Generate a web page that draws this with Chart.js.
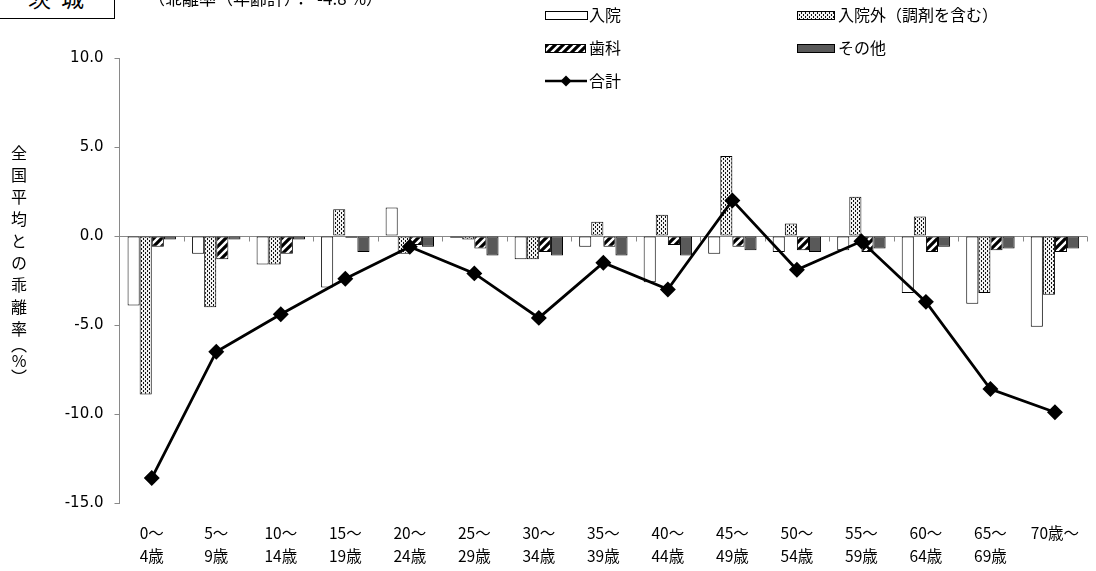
<!DOCTYPE html>
<html>
<head>
<meta charset="utf-8">
<script src="https://cdn.jsdelivr.net/npm/chart.js@4/dist/chart.umd.min.js"></script>
<style>
  html, body { margin: 0; padding: 0; background: #fff; overflow: hidden; }
  #wrap { position: relative; width: 1096px; height: 571px; font-family: "Noto Sans CJK JP", sans-serif; }
  #chart { position: absolute; left: 0; top: 0; }
  #pref { position: absolute; left: -1px; top: -22px; width: 116px; height: 41px; border: 1px solid #000;
          font-size: 23px; line-height: 26px; text-align: center; letter-spacing: 10px; color: #000; box-sizing: border-box;
          padding-top: 5px; padding-left: 8px; background: #fff; }
  #rate { position: absolute; left: 148px; top: -15px; font-size: 17px; color: #000; white-space: pre; }
  #ytitle { position: absolute; left: 10px; top: 145px; writing-mode: vertical-rl; text-orientation: upright;
            font-size: 16px; letter-spacing: 6px; color: #000; line-height: 18px; }
  #ytitle span { letter-spacing: 0; }
</style>
</head>
<body>
<div id="wrap">
  <canvas id="chart" width="1096" height="571"></canvas>
  <div id="pref">茨城</div>
  <div id="rate">（乖離率（年齢計）：  -4.8 %）</div>
  <div id="ytitle">全国平均との乖離<span>率（%</span>）</div>
</div>
<script>
// ---- data ----
const categories = [
  ['0〜','4歳'], ['5〜','9歳'], ['10〜','14歳'], ['15〜','19歳'], ['20〜','24歳'],
  ['25〜','29歳'], ['30〜','34歳'], ['35〜','39歳'], ['40〜','44歳'], ['45〜','49歳'],
  ['50〜','54歳'], ['55〜','59歳'], ['60〜','64歳'], ['65〜','69歳'], '70歳〜'
];
const seriesNames = ['入院', '入院外（調剤を含む）', '歯科', 'その他', '合計'];
const inpatient  = [-3.9, -1.0, -1.6, -2.9,  1.6, -0.1, -1.3, -0.6, -2.6, -1.0, -0.9, -0.8, -3.2, -3.8, -5.1];
const outpatient = [-8.9, -4.0, -1.6,  1.5, -1.0, -0.2, -1.3,  0.8,  1.2,  4.5,  0.7,  2.2,  1.1, -3.2, -3.3];
const dental     = [-0.6, -1.3, -1.0, -0.1, -0.5, -0.7, -0.9, -0.6, -0.5, -0.6, -0.8, -0.9, -0.9, -0.8, -0.9];
const other      = [-0.2, -0.2, -0.2, -0.9, -0.6, -1.1, -1.1, -1.1, -1.1, -0.8, -0.9, -0.7, -0.6, -0.7, -0.7];
const total      = [-13.6, -6.5, -4.4, -2.4, -0.6, -2.1, -4.6, -1.5, -3.0, 2.0, -1.9, -0.3, -3.7, -8.6, -9.9];
const yTicks = [-15, -10, -5, 0, 5, 10];

// ---- patterns ----
function dotPattern() {
  const c = document.createElement('canvas'); c.width = 4; c.height = 4;
  const x = c.getContext('2d');
  x.fillStyle = '#f2f2f2'; x.fillRect(0, 0, 4, 4);
  x.fillStyle = '#111';
  x.fillRect(1, 0, 1, 1); x.fillRect(1, 1, 1, 1);
  x.fillRect(3, 2, 1, 1); x.fillRect(3, 3, 1, 1);
  return x.createPattern(c, 'repeat');
}
function hatchPattern() {
  const c = document.createElement('canvas'); c.width = 8; c.height = 8;
  const x = c.getContext('2d');
  x.fillStyle = '#fff'; x.fillRect(0, 0, 8, 8);
  x.strokeStyle = '#000'; x.lineWidth = 3.2; x.lineCap = 'square';
  x.beginPath();
  x.moveTo(-2, 10); x.lineTo(10, -2);
  x.moveTo(-2, 2); x.lineTo(2, -2);
  x.moveTo(6, 10); x.lineTo(10, 6);
  x.stroke();
  return x.createPattern(c, 'repeat');
}
const dots = dotPattern();
const hatch = hatchPattern();
const AXIS = '#898989';
const FONT = '"Noto Sans CJK JP", sans-serif';
const NUMFONT = '"DejaVu Sans", sans-serif';

// zero line + category ticks
const zeroLine = {
  id: 'zeroLine',
  beforeDatasetsDraw(chart) {
    const { ctx, chartArea: a, scales: { y } } = chart;
    const y0 = Math.round(y.getPixelForValue(0)) + 0.5;
    ctx.save();
    ctx.strokeStyle = AXIS; ctx.lineWidth = 1;
    ctx.beginPath();
    ctx.moveTo(a.left, y0); ctx.lineTo(a.right, y0);
    const n = categories.length, w = (a.right - a.left) / n;
    for (let i = 1; i <= n; i++) {
      const x = Math.round(a.left + i * w) + 0.5;
      ctx.moveTo(x, y0); ctx.lineTo(x, y0 + 5);
    }
    ctx.stroke();
    ctx.restore();
  }
};

// custom two-column legend
const legendPlugin = {
  id: 'gridLegend',
  afterDraw(chart) {
    const ctx = chart.ctx;
    ctx.save();
    ctx.font = '16px ' + FONT;
    ctx.fillStyle = '#000';
    ctx.textBaseline = 'middle';
    const items = [
      { name: seriesNames[0], fill: '#fff', x: 545, w: 42, y: 15, tx: 589 },
      { name: seriesNames[1], fill: dots, x: 797, w: 37, y: 15, tx: 838 },
      { name: seriesNames[2], fill: hatch, x: 545, w: 40, y: 48, tx: 589 },
      { name: seriesNames[3], fill: '#595959', x: 797, w: 37, y: 48, tx: 838 },
    ];
    items.forEach(it => {
      ctx.fillStyle = it.fill;
      ctx.fillRect(it.x, it.y - 4, it.w, 8);
      ctx.strokeStyle = '#000'; ctx.lineWidth = 1;
      ctx.strokeRect(it.x + 0.5, it.y - 3.5, it.w, 8);
      ctx.fillStyle = '#000';
      ctx.fillText(it.name, it.tx, it.y);
    });
    // total line
    const ly = 81;
    ctx.strokeStyle = '#000'; ctx.lineWidth = 2.5;
    ctx.beginPath(); ctx.moveTo(545, ly); ctx.lineTo(587, ly); ctx.stroke();
    ctx.beginPath();
    ctx.moveTo(566, ly - 5.5); ctx.lineTo(571.5, ly); ctx.lineTo(566, ly + 5.5); ctx.lineTo(560.5, ly);
    ctx.closePath(); ctx.fillStyle = '#000'; ctx.fill();
    ctx.fillText(seriesNames[4], 589, ly);
    ctx.restore();
  }
};

const barCommon = { borderColor: '#000', borderWidth: 1, borderSkipped: false,
                    categoryPercentage: 0.75, barPercentage: 1.0, order: 2 };

new Chart(document.getElementById('chart'), {
  data: {
    labels: categories,
    datasets: [
      { type: 'bar', label: seriesNames[0], data: inpatient, backgroundColor: '#fff', ...barCommon },
      { type: 'bar', label: seriesNames[1], data: outpatient, backgroundColor: dots, ...barCommon },
      { type: 'bar', label: seriesNames[2], data: dental, backgroundColor: hatch, ...barCommon },
      { type: 'bar', label: seriesNames[3], data: other, backgroundColor: '#595959', ...barCommon },
      { type: 'line', label: seriesNames[4], data: total, borderColor: '#000', backgroundColor: '#000',
        borderWidth: 2.8, pointStyle: 'rectRot', pointRadius: 6, pointHoverRadius: 6, tension: 0, order: 0 }
    ]
  },
  options: {
    responsive: false,
    animation: false,
    events: [],
    layout: { padding: { top: 58, right: 6, bottom: 0, left: 0 } },
    plugins: { legend: { display: false }, tooltip: { enabled: false } },
    scales: {
      x: {
        type: 'category', offset: true,
        grid: { display: false }, border: { display: false },
        ticks: { color: '#000', font: { family: FONT, size: 15.5, lineHeight: 1.5 }, padding: 10,
                 maxRotation: 0, autoSkip: false },
        afterFit(s) { s.height = 68; }
      },
      y: {
        min: -15, max: 10,
        afterBuildTicks(s) { s.ticks = yTicks.map(v => ({ value: v })); },
        grid: { display: true, drawOnChartArea: false, drawTicks: true, tickLength: 5, color: AXIS },
        border: { display: true, color: AXIS, width: 1 },
        ticks: { color: '#000', font: { family: NUMFONT, size: 15 }, padding: 11,
                 callback: v => Number(v).toFixed(1) },
        afterFit(s) { s.width = 119.5; }
      }
    }
  },
  plugins: [zeroLine, legendPlugin]
});
</script>
</body>
</html>
